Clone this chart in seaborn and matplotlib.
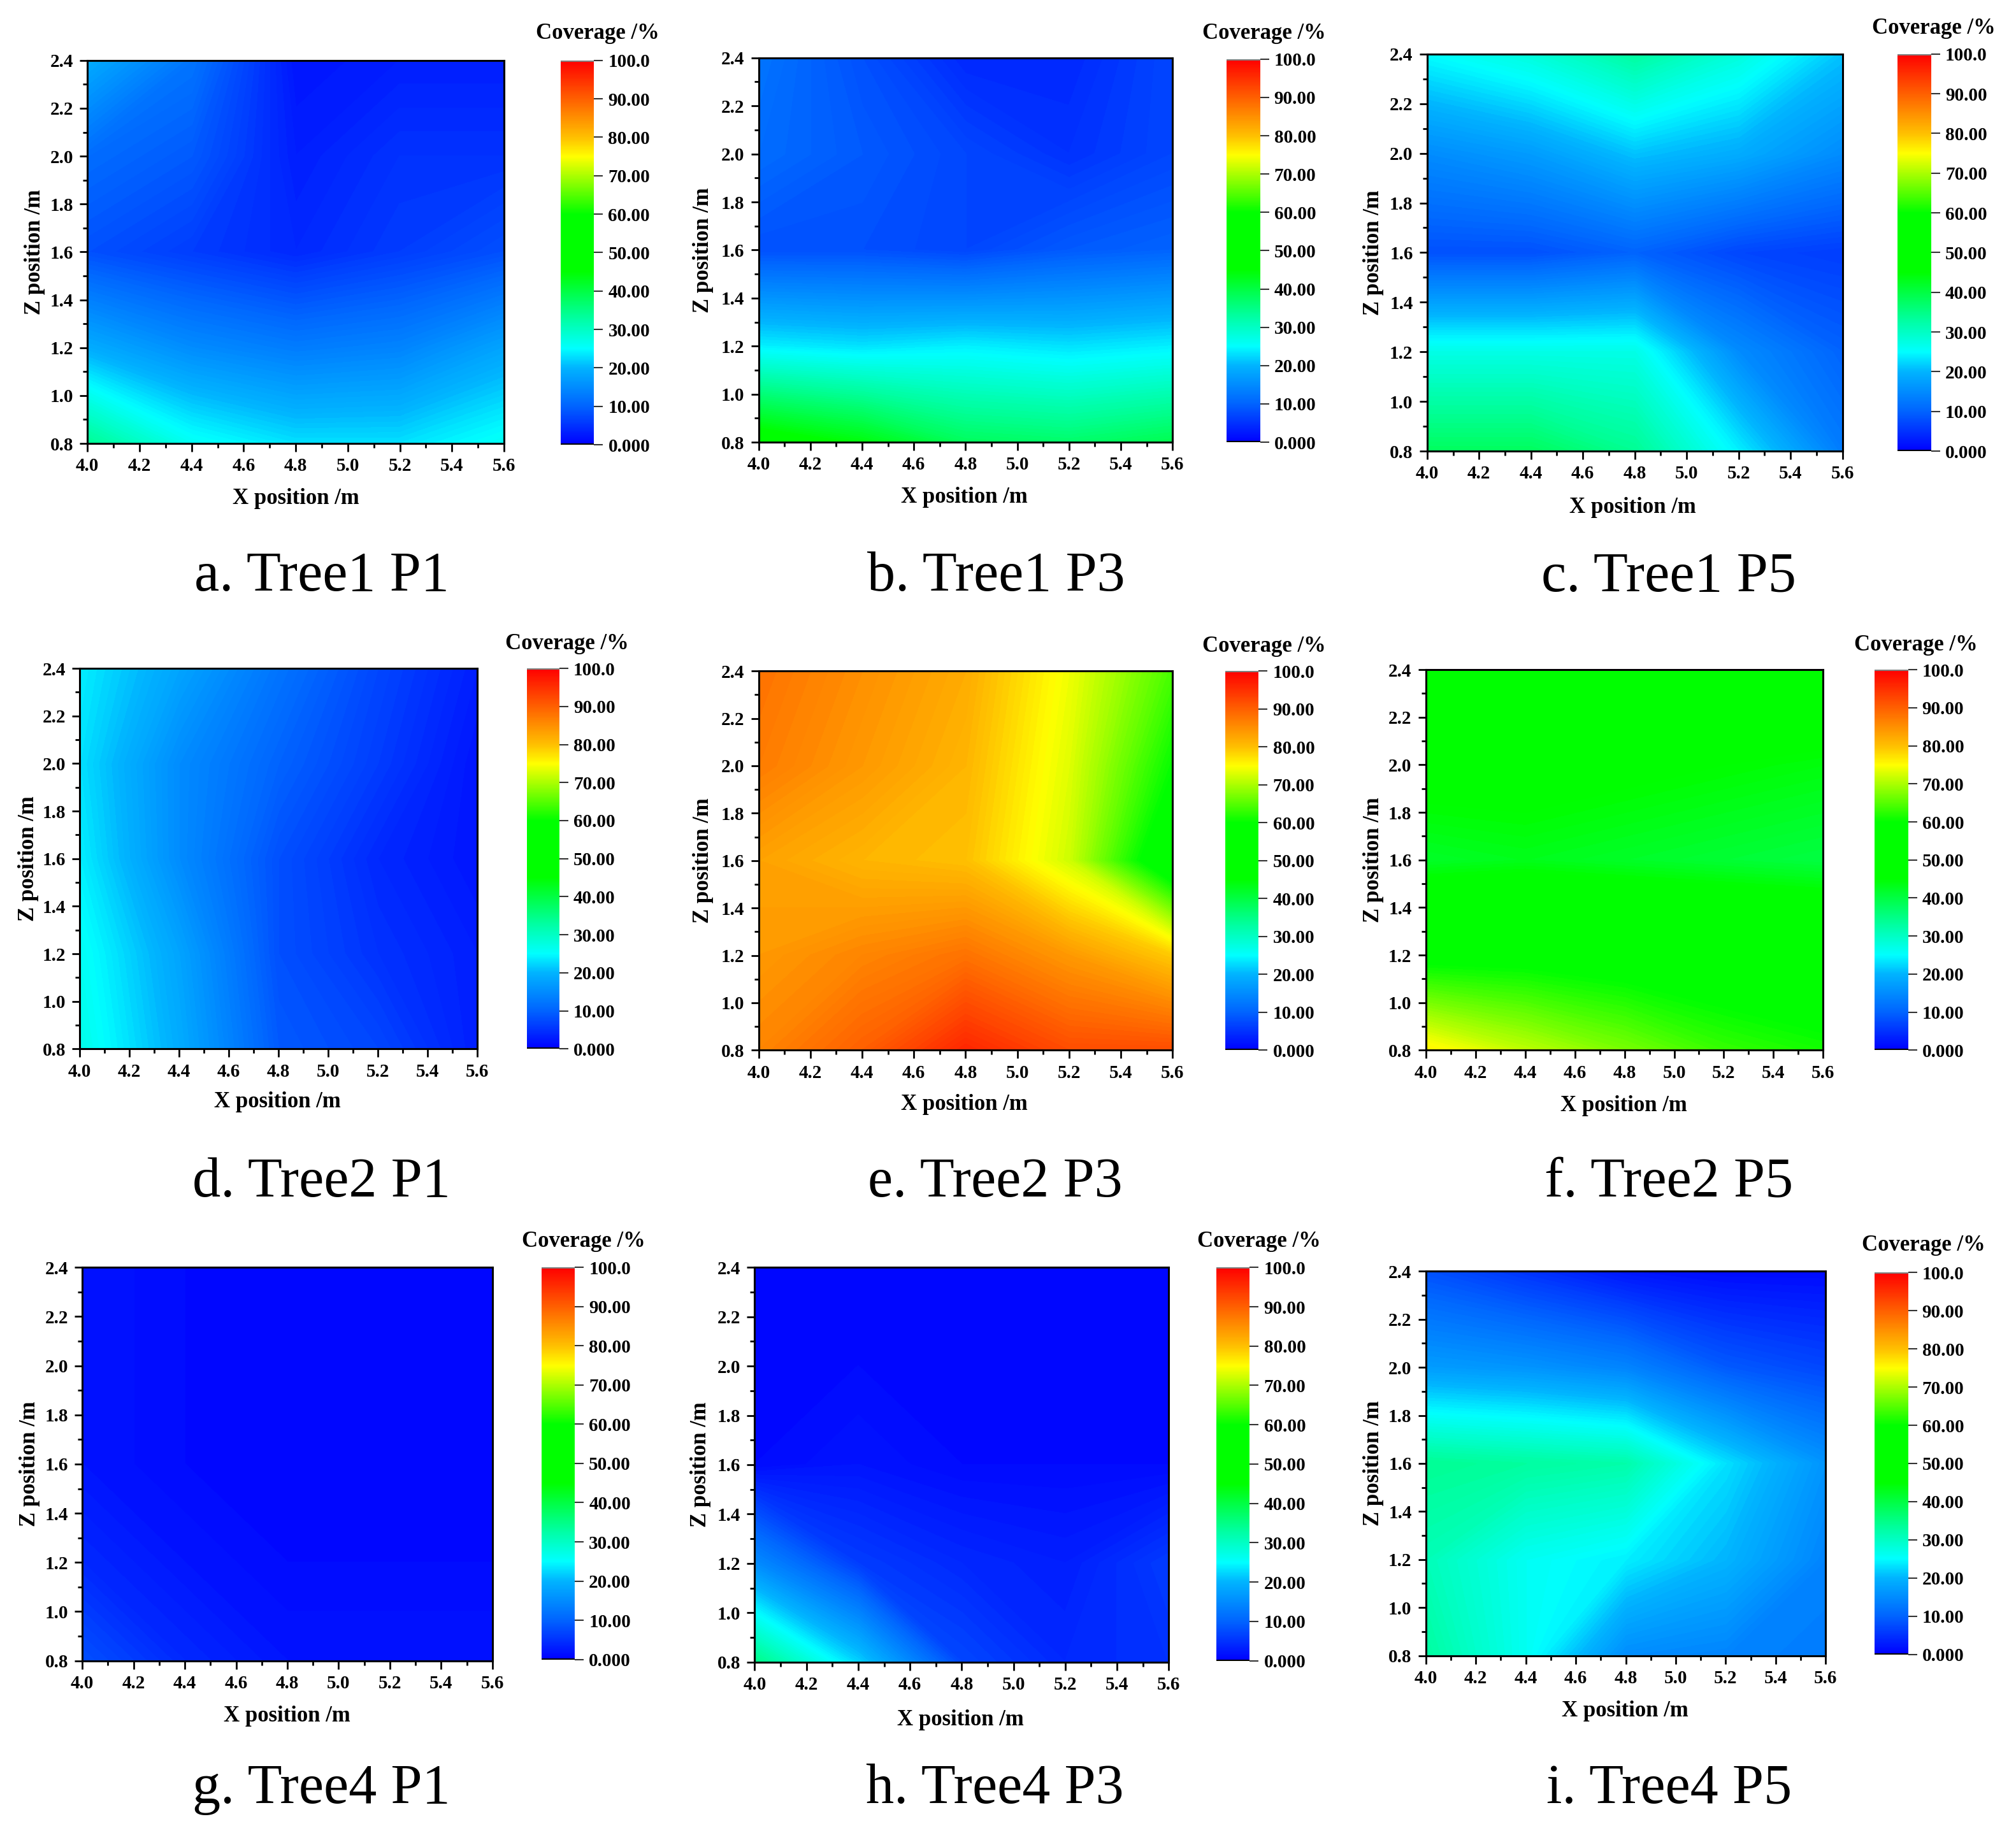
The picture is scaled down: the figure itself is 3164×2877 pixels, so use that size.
import numpy as np
import matplotlib as mpl
mpl.use("Agg")
import matplotlib.pyplot as plt
import seaborn as sns

# DATA (coverage /%, rows go z=0.8 -> 2.4, columns x=4.0 -> 5.6)
x_pos = [4.0, 4.4, 4.8, 5.2, 5.6]
z_pos = [0.8, 1.2, 1.6, 2.0, 2.4]

tree1_p1 = [[34, 26, 23, 23, 26], [19, 15, 13, 14, 18], [8, 6, 4, 6, 8], [11, 9, 3, 5, 5], [19, 12, 2, 3, 3]]
tree1_p3 = [[48, 44, 38, 37, 39], [24, 23, 24, 23, 24], [8, 8, 7, 9, 10], [11, 9, 7, 5, 7], [12, 8, 4, 4, 7]]
tree1_p5 = [[38, 38, 34, 24, 13], [27, 27, 27, 15, 10], [8, 8, 10, 7, 6], [15, 17, 21, 19, 15], [25, 28, 33, 28, 21]]
tree2_p1 = [[27, 19, 9, 7, 3], [26, 18, 8, 5, 3], [24, 15, 8, 4, 2], [23, 15, 10, 6, 2], [24, 18, 12, 7, 3]]
tree2_p3 = [[86, 90, 96, 92, 92], [84, 86, 88, 84, 79], [83, 81, 80, 72, 54], [87, 84, 81, 73, 60], [88, 85, 82, 74, 64]]
tree2_p5 = [[76, 71, 67, 63, 61], [58, 58, 57, 56, 55], [42, 43, 42, 41, 40], [47, 47, 46, 45, 44], [53, 52, 52, 52, 50]]
tree4_p1 = [[8, 4, 2, 2, 2], [4, 2, 1, 1, 1], [2, 1, 0.5, 1, 1], [2, 1, 1, 1, 1], [2, 1, 1, 1, 1]]
tree4_p3 = [[35, 22, 7, 4, 5], [15, 6, 4, 3, 6], [1, 2, 1, 1, 1], [1, 1, 1, 1, 1], [1, 1, 1, 1, 1]]
tree4_p5 = [[33, 26, 15, 14, 13], [31, 26, 24, 20, 14], [34, 33, 32, 23, 16], [17, 16, 14, 9, 7], [8, 5, 2, 1, 1]]

captions = ["a. Tree1 P1", "b. Tree1 P3", "c. Tree1 P5",
            "d. Tree2 P1", "e. Tree2 P3", "f. Tree2 P5",
            "g. Tree4 P1", "h. Tree4 P3", "i. Tree4 P5"]
panels = [tree1_p1, tree1_p3, tree1_p5, tree2_p1, tree2_p3, tree2_p5, tree4_p1, tree4_p3, tree4_p5]

x_ticks = [4.0, 4.2, 4.4, 4.6, 4.8, 5.0, 5.2, 5.4, 5.6]
z_ticks = [0.8, 1.0, 1.2, 1.4, 1.6, 1.8, 2.0, 2.2, 2.4]
cb_ticks = [0, 10, 20, 30, 40, 50, 60, 70, 80, 90, 100]
cb_labels = ["0.000", "10.00", "20.00", "30.00", "40.00", "50.00", "60.00", "70.00", "80.00", "90.00", "100.0"]

# LAYOUT, in px of the 1568 wide preview
# ax x0,x1,top,bottom | cbar x0,x1,top,bottom | Coverage x,y | xlabel x,y | ylabel x | caption x,y
layout = [
    (68, 392, 47, 345, 436, 462, 47, 346, 465, 26, 230, 388, 27, 250, 447),
    (590, 912, 45, 344, 954, 980, 46, 344, 983, 26, 750, 387, 547, 775, 447),
    (1110, 1433, 42, 351, 1476, 1502, 42, 351, 1504, 22, 1270, 395, 1068, 1298, 447),
    (62, 371, 520, 816, 410, 435, 520, 816, 441, 501, 216, 857, 22, 250, 918),
    (590, 912, 522, 817, 953, 979, 522, 817, 983, 503, 750, 859, 547, 774, 918),
    (1109, 1418, 521, 817, 1458, 1484, 521, 817, 1490, 502, 1263, 860, 1068, 1298, 918),
    (64, 383, 986, 1292, 421, 447, 986, 1291, 454, 966, 223, 1335, 23, 250, 1390),
    (587, 909, 986, 1293, 946, 972, 986, 1292, 979, 966, 747, 1338, 545, 774, 1390),
    (1109, 1420, 989, 1288, 1458, 1484, 990, 1287, 1496, 969, 1264, 1331, 1068, 1298, 1390),
]

W, H = 1568.0, 1426.0

sns.set_theme(style="ticks")
plt.rcParams['font.family'] = ['Liberation Serif', 'DejaVu Serif']
plt.rcParams['font.weight'] = 'bold'

# origin style rainbow, green plateau between 45 and 60
stops = [(0, "#0000ff"), (10, "#0064ff"), (20, "#00b4ff"), (25, "#00ffff"), (33, "#00ffa0"),
         (45, "#00ff00"), (60, "#00ff00"), (75, "#ffff00"), (80, "#ffc000"), (90, "#ff6000"), (100, "#ff0000")]
cov_cmap = mpl.colors.LinearSegmentedColormap.from_list("coverage", [(v / 100, c) for v, c in stops], N=512)
levels = np.linspace(0, 100, 201)

fig = plt.figure(figsize=(31.64, 28.77), dpi=100, facecolor="white")


def box(x0, x1, top, bottom):
    return [x0 / W, 1 - bottom / H, (x1 - x0) / W, (bottom - top) / H]


for vals, cap, lay in zip(panels, captions, layout):
    # own norm per panel, a shared one resets the colorbar tick labels
    norm = mpl.colors.Normalize(0, 100)
    ax = fig.add_axes(box(*lay[0:4]))
    cs = ax.contourf(x_pos, z_pos, np.array(vals, dtype=float), levels=levels, cmap=cov_cmap,
                     norm=mpl.colors.Normalize(0, 100), extend="both")
    cs.set_edgecolor("face")
    ax.set_xlim(4.0, 5.6)
    ax.set_ylim(0.8, 2.4)
    ax.set_xticks(x_ticks)
    ax.set_yticks(z_ticks)
    ax.set_xticklabels(["%.1f" % t for t in x_ticks])
    ax.set_yticklabels(["%.1f" % t for t in z_ticks])
    ax.xaxis.set_minor_locator(mpl.ticker.MultipleLocator(0.1))
    ax.yaxis.set_minor_locator(mpl.ticker.MultipleLocator(0.1))
    ax.tick_params(which="major", length=9, width=2, labelsize=21, pad=7, color="black", labelcolor="black")
    ax.tick_params(which="minor", length=5, width=2, color="black")
    for s in ax.spines.values():
        s.set_linewidth(2.2)
        s.set_color("black")

    # colorbar
    cax = fig.add_axes(box(*lay[4:8]))
    cb = fig.colorbar(mpl.cm.ScalarMappable(norm=norm, cmap=cov_cmap), cax=cax)
    cb.outline.set_visible(False)
    cb.set_ticks(cb_ticks)
    cb.set_ticklabels(cb_labels)
    cax.tick_params(length=10, width=1.5, labelsize=21, pad=6, color="#333333", labelcolor="black")
    cax.axhline(0, color="black", lw=3)
    cax.axhline(100, color="#808080", lw=3)

    fig.text(lay[8] / W, 1 - lay[9] / H, "Coverage /%", ha="center", va="center", fontsize=25, color="black")
    fig.text(lay[10] / W, 1 - lay[11] / H, "X position /m", ha="center", va="center", fontsize=25, color="black")
    fig.text(lay[12] / W, 1 - (lay[2] + lay[3]) / 2 / H, "Z position /m", ha="center", va="center",
             rotation=90, fontsize=25, color="black")
    fig.text(lay[13] / W, 1 - (lay[14] + 2) / H, cap, ha="center", va="center", fontsize=63.5,
             fontweight="normal", color="black")

fig.savefig("out.png", dpi=100)
